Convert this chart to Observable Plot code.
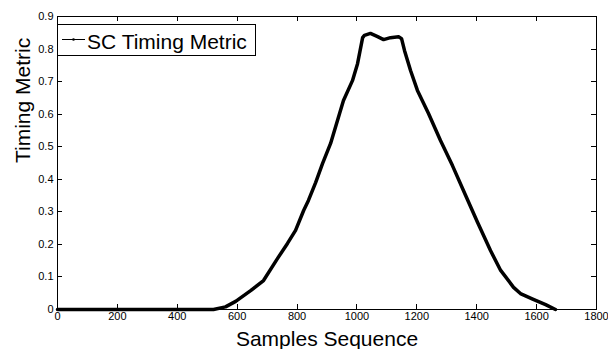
<!DOCTYPE html>
<html><head><meta charset="utf-8">
<script src="https://cdn.jsdelivr.net/npm/d3@7"></script>
<script src="https://cdn.jsdelivr.net/npm/@observablehq/plot@0.6"></script>
<style>body{margin:0;background:#fff} svg{font-family:"Liberation Sans",Arial,sans-serif}</style>
</head><body><div id="chart"></div>
<script>
const samples = [0, 521, 561, 595, 645, 688, 735, 768, 795, 822, 838, 862, 885, 912, 942, 955, 985, 1002, 1019, 1025, 1045, 1069, 1089, 1112, 1139, 1149, 1159, 1179, 1202, 1239, 1279, 1319, 1363, 1403, 1446, 1480, 1496, 1523, 1546, 1587, 1630, 1663];
const metric = [0, 0, 0.008, 0.025, 0.058, 0.089, 0.157, 0.203, 0.243, 0.304, 0.335, 0.390, 0.448, 0.510, 0.602, 0.642, 0.703, 0.755, 0.835, 0.842, 0.848, 0.838, 0.829, 0.835, 0.838, 0.832, 0.795, 0.734, 0.673, 0.602, 0.519, 0.442, 0.350, 0.267, 0.181, 0.120, 0.101, 0.068, 0.049, 0.032, 0.015, 0];
const xTicks = [0, 200, 400, 600, 800, 1000, 1200, 1400, 1600, 1800];
const yTicks = [0, 0.1, 0.2, 0.3, 0.4, 0.5, 0.6, 0.7, 0.8, 0.9];
const seriesName = "SC Timing Metric";
const xLabel = "Samples Sequence";
const yLabel = "Timing Metric";

const data = samples.map((s, i) => ({s, m: metric[i]}));
const W = 608, H = 349, mL = 57, mR = 12, mT = 16, mB = 40;

const plot = Plot.plot({
  width: W, height: H,
  marginLeft: mL, marginRight: mR, marginTop: mT, marginBottom: mB,
  style: {fontFamily: '"Liberation Sans", Arial, sans-serif', fontSize: "11px", color: "#000", background: "#fff"},
  x: {domain: [0, 1800]},
  y: {domain: [0, 0.9]},
  marks: [
    Plot.axisX(xTicks, {anchor: "bottom", tickSize: 0, tickPadding: 3, label: null, fontSize: 11, tickFormat: d => String(d)}),
    Plot.axisY(yTicks, {anchor: "left", tickSize: 0, tickPadding: 4, label: null, fontSize: 11, tickFormat: d => String(d)}),
    Plot.line(data, {x: "s", y: "m", stroke: "#000", strokeWidth: 3.5, strokeLinejoin: "round", strokeLinecap: "round"}),
    Plot.frame({stroke: "#000"}),
    Plot.text([xLabel], {frameAnchor: "bottom", dy: 22, lineAnchor: "top", fontSize: 21}),
    Plot.text([yLabel], {frameAnchor: "left", dx: -34, rotate: -90, fontSize: 21})
  ]
});

const svg = d3.select(plot);
const xs = plot.scale("x"), ys = plot.scale("y");
const g = svg.append("g").attr("stroke", "#000").attr("stroke-width", 1);
const yb = H - mB, yt = mT, xl = mL, xr = W - mR;
xTicks.forEach(t => {
  const x = Math.round(xs.apply(t)) + 0.5;
  g.append("line").attr("x1", x).attr("x2", x).attr("y1", yb).attr("y2", yb - 5);
  g.append("line").attr("x1", x).attr("x2", x).attr("y1", yt).attr("y2", yt + 5);
});
yTicks.forEach(t => {
  const y = Math.round(ys.apply(t)) + 0.5;
  g.append("line").attr("x1", xl).attr("x2", xl + 5).attr("y1", y).attr("y2", y);
  g.append("line").attr("x1", xr).attr("x2", xr - 5).attr("y1", y).attr("y2", y);
});

// legend
const lg = svg.append("g").attr("text-anchor", "start");
lg.append("rect").attr("x", 57.5).attr("y", 24.5).attr("width", 198).attr("height", 31)
  .attr("fill", "#fff").attr("stroke", "#000");
lg.append("line").attr("x1", 62).attr("x2", 85).attr("y1", 39.5).attr("y2", 39.5).attr("stroke", "#000");
lg.append("circle").attr("cx", 73.5).attr("cy", 39.5).attr("r", 1.3).attr("fill", "#000");
lg.append("text").attr("x", 87).attr("y", 48.5).attr("font-size", 21).attr("fill", "#000")
  .attr("text-anchor", "start").text(seriesName);

document.getElementById("chart").appendChild(plot);
</script>
</body></html>
